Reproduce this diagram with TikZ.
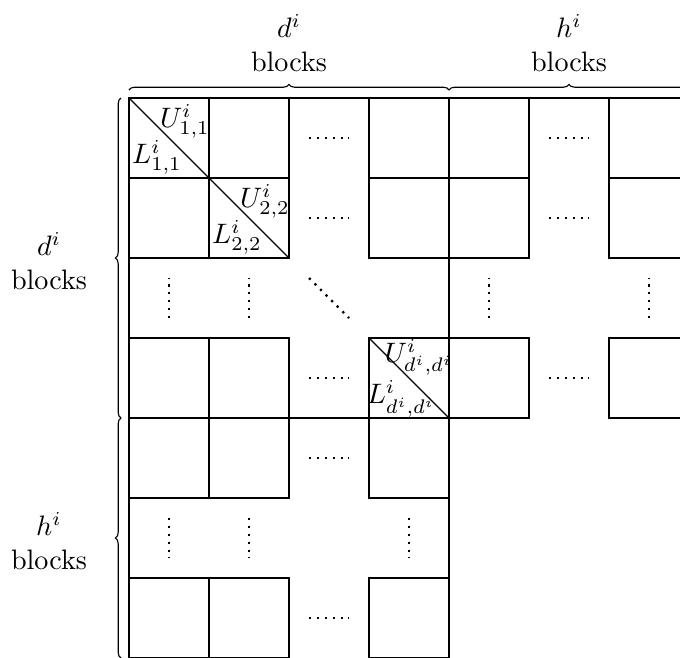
\documentclass[tikz,border=0pt]{standalone}
\usetikzlibrary{decorations.pathreplacing}
\begin{document}
\begin{tikzpicture}[
  gridline/.style={line width=0.4pt},
  sepline/.style={line width=0.8pt},
  dotline/.style={line width=0.8pt, dash pattern=on 0.8pt off 2pt},
  brc/.style={decorate, decoration={brace, amplitude=2pt}},
  lab/.style={align=center, anchor=south, inner sep=0pt},
  ml/.style={inner sep=0pt}
]
\useasboundingbox (-1.6125,1.225) rectangle (6.8875,-6.9875);
\clip (-1.6125,1.225) rectangle (6.8875,-6.9875);

% cells
\foreach \r in {0,1,3} \foreach \c in {0,1,3,4,6}
  \draw[gridline] (\c,-\r) rectangle ++(1,-1);
\foreach \r in {4,6} \foreach \c in {0,1,3}
  \draw[gridline] (\c,-\r) rectangle ++(1,-1);

% frame lines
\draw[gridline] (0,0) -- (7,0);
\draw[gridline] (0,0) -- (0,-7);
\draw[gridline] (4,-4) -- (4,-7);
\draw[sepline] (4,0) -- (4,-4) -- (0,-4);

% diagonal splits
\draw[gridline] (0,0) -- (1,-1);
\draw[gridline] (1,-1) -- (2,-2);
\draw[gridline] (3,-3) -- (4,-4);

% horizontal dots
\foreach \c/\r in {2/0,2/1,2/3,5/0,5/1,5/3,2/4,2/6}
  \draw[dotline] (\c+0.25,-\r-0.5) -- (\c+0.75,-\r-0.5);
% vertical dots
\foreach \c in {0,1,4,6}
  \draw[dotline] (\c+0.5,-2.75) -- (\c+0.5,-2.25);
\foreach \c in {0,1,3}
  \draw[dotline] (\c+0.5,-5.25) -- (\c+0.5,-5.75);
% diagonal dots
\draw[dotline] (2.25,-2.25) -- (2.75,-2.75);

% block labels
\node[ml] (u11) at (0.70,-0.295) {$U^i_{1,1}$};
\node[ml] (l11) at (0.35,-0.745) {$L^i_{1,1}$};
\node[ml] (u22) at (1.70,-1.295) {$U^i_{2,2}$};
\node[ml] (l22) at (1.35,-1.745) {$L^i_{2,2}$};
\node[ml] (udd) at (3.625,-3.24) {$U^i_{d^i,d^i}$};
\node[ml] (ldd) at (3.40,-3.76) {$L^i_{d^i,d^i}$};

% braces
\draw[brc] (0,0.1) -- (4,0.1);
\draw[brc] (4,0.1) -- (7,0.1);
\draw[brc] (-0.1,-4) -- (-0.1,0);
\draw[brc] (-0.1,-7) -- (-0.1,-4);

% brace labels
\node[lab] (topd) at (2,0.325) {$d^i$\\blocks};
\node[lab] (toph) at (5.5,0.325) {$h^i$\\blocks};
\node[lab] (leftd) at (-1,-2.4) {$d^i$\\blocks};
\node[lab] (lefth) at (-1,-5.9) {$h^i$\\blocks};
\end{tikzpicture}
\end{document}
